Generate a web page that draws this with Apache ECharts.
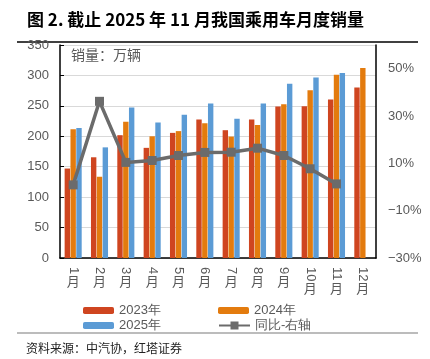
<!DOCTYPE html>
<html><head><meta charset="utf-8">
<script src="https://cdn.jsdelivr.net/npm/echarts@6/dist/echarts.min.js"></script>
<style>html,body{margin:0;padding:0;background:#fff}#c{width:430px;height:359px}</style>
</head><body><div id="c"></div>
<script>
const months = ['1月','2月','3月','4月','5月','6月','7月','8月','9月','10月','11月','12月'];
const s2023 = [147, 165.5, 201.8, 181, 205.6, 227.4, 210, 227.4, 249, 249.3, 260.5, 280];
const s2024 = [211.5, 133.5, 223.7, 200, 208.5, 221.5, 199.5, 218.5, 252.5, 275.5, 301, 312.4];
const s2025 = [213.5, 181.8, 247.3, 222.7, 235.5, 254, 229, 254, 286.5, 296.5, 304, null];
const yoy = [0.9, 36.2, 10.4, 11.2, 13.3, 14.6, 14.7, 16.4, 13.3, 7.7, 1.3, null];
const leftTicks = {min: 0, max: 350, interval: 50};
const rightTicks = {min: -30, max: 60, interval: 20};

const cjk = '"Noto Sans CJK SC", "Liberation Sans", sans-serif';
const num = '"Liberation Sans", Arial, sans-serif';
const gray = '#595959';
const chart = echarts.init(document.getElementById('c'));
const legendBase = {orient: 'horizontal', itemWidth: 31, itemHeight: 7, itemGap: 5,
  textStyle: {fontFamily: num, fontSize: 13, color: gray}, selectedMode: false};
chart.setOption({
  animation: false,
  title: {text: '图 2. 截止 2025 年 11 月我国乘用车月度销量', left: 22, top: 6,
    textStyle: {fontFamily: cjk, fontSize: 17, fontWeight: 'bold', color: '#000'}},
  grid: {left: 60, right: 54, top: 45, bottom: 101},
  legend: [
    Object.assign({}, legendBase, {data: ['2023年'], left: 78, top: 299}),
    Object.assign({}, legendBase, {data: ['2024年'], left: 213, top: 299}),
    Object.assign({}, legendBase, {data: ['2025年'], left: 78, top: 314}),
    Object.assign({}, legendBase, {data: ['同比-右轴'], left: 213, top: 314, itemHeight: 10})
  ],
  xAxis: [{
    type: 'category', data: months, position: 'bottom',
    axisLine: {lineStyle: {color: '#000', width: 1.5}},
    axisTick: {show: false},
    axisLabel: {interval: 0, rotate: -90, margin: 9, fontFamily: num, fontSize: 13, color: gray,
      formatter: v => v.replace('月', '')}
  }, {
    type: 'category', data: months, position: 'bottom', gridIndex: 0,
    axisLine: {show: false}, axisTick: {show: false},
    axisLabel: {interval: 0, margin: 17, color: gray, fontFamily: cjk, fontSize: 13,
      formatter: v => v.length > 2 ? '{b|月}' : '{a|月}',
      rich: {a: {fontFamily: cjk, fontSize: 13, color: gray},
             b: {fontFamily: cjk, fontSize: 13, color: gray, padding: [7, 0, 0, 0]}}}
  }],
  yAxis: [{
    type: 'value', min: leftTicks.min, max: leftTicks.max, interval: leftTicks.interval,
    axisLine: {show: true, lineStyle: {color: '#000', width: 1.5}},
    axisTick: {show: true, inside: true, length: 4, lineStyle: {color: '#000'}},
    splitLine: {lineStyle: {color: '#D9D9D9', width: 1}},
    axisLabel: {margin: 11, fontFamily: num, fontSize: 13, color: gray}
  }, {
    type: 'value', min: rightTicks.min, max: rightTicks.max, interval: rightTicks.interval,
    position: 'right',
    axisLine: {show: true, lineStyle: {color: '#000', width: 1.5}},
    axisTick: {show: false},
    splitLine: {show: false},
    axisLabel: {margin: 12, fontFamily: num, fontSize: 13, color: gray, showMaxLabel: false,
      formatter: v => v === 60 ? '' : (v < 0 ? '\u2212' + Math.abs(v) : v) + '%'}
  }],
  graphic: [
    {type: 'line', shape: {x1: 17, y1: 42, x2: 418, y2: 42}, style: {stroke: '#000', lineWidth: 1.5}},
    {type: 'line', shape: {x1: 17, y1: 333, x2: 418, y2: 333}, style: {stroke: '#A6A6A6', lineWidth: 1.5}},
    {type: 'text', left: 71, top: 48, style: {text: '销量：万辆', font: '14px "Noto Sans CJK SC"', fill: gray}},
    {type: 'text', left: 26, top: 342, style: {text: '资料来源：中汽协，红塔证券', font: '12px "Noto Sans CJK SC"', fill: '#222'}}
  ],
  series: [
    {name: '2023年', type: 'bar', data: s2023, barWidth: 5.4, barGap: '8%', itemStyle: {color: '#CF4520'}},
    {name: '2024年', type: 'bar', data: s2024, barWidth: 5.4, barGap: '8%', itemStyle: {color: '#E37B0E'}},
    {name: '2025年', type: 'bar', data: s2025, barWidth: 5.4, barGap: '8%', itemStyle: {color: '#5B9BD5'}},
    {name: '同比-右轴', type: 'line', yAxisIndex: 1, data: yoy, symbol: 'rect', symbolSize: 9,
      lineStyle: {color: '#6B6B6B', width: 3.5}, itemStyle: {color: '#6B6B6B'}, z: 5}
  ]
});
</script></body></html>
